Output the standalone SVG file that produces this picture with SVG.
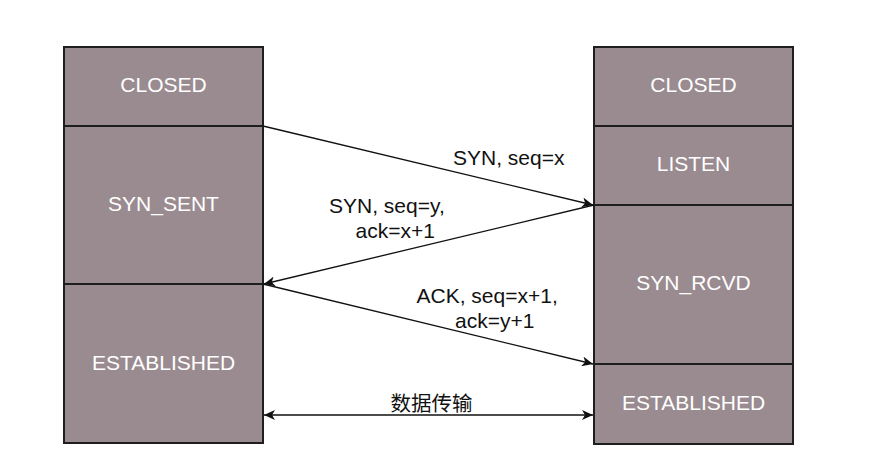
<svg xmlns="http://www.w3.org/2000/svg" width="879" height="473" viewBox="0 0 879 473">
<defs>
<style>
.box{fill:#9a8b90;stroke:#1e1e1e;stroke-width:2}
.div{stroke:#1e1e1e;stroke-width:2}
.st{fill:#ffffff;font-family:"Liberation Sans",Arial,sans-serif;font-size:21px;text-anchor:middle}
.lbl{fill:#111111;font-family:"Liberation Sans",Arial,sans-serif;font-size:21px}
.cn{fill:#111111;font-family:"Noto Sans CJK SC","Liberation Sans",sans-serif;font-size:20.5px;text-anchor:middle}
.ln{stroke:#111111;stroke-width:1.3;fill:none}
</style>
<marker id="ah" markerUnits="userSpaceOnUse" markerWidth="12" markerHeight="10" refX="11" refY="5" orient="auto-start-reverse" viewBox="0 0 12 10">
<path d="M0,0 L11,5 L0,10 L3,5 Z" fill="#111111"/>
</marker>
</defs>
<rect width="879" height="473" fill="#ffffff"/>
<g id="client">
<rect class="box" x="64" y="47" width="199" height="396"/>
<line class="div" x1="64" y1="126" x2="263" y2="126"/>
<line class="div" x1="64" y1="284" x2="263" y2="284"/>
<text class="st" x="163.5" y="92">CLOSED</text>
<text class="st" x="163.5" y="211">SYN_SENT</text>
<text class="st" x="163.5" y="370">ESTABLISHED</text>
</g>
<g id="server">
<rect class="box" x="594" y="47" width="199" height="397"/>
<line class="div" x1="594" y1="126" x2="793" y2="126"/>
<line class="div" x1="594" y1="205" x2="793" y2="205"/>
<line class="div" x1="594" y1="364" x2="793" y2="364"/>
<text class="st" x="693.5" y="92">CLOSED</text>
<text class="st" x="693.5" y="171">LISTEN</text>
<text class="st" x="693.5" y="290">SYN_RCVD</text>
<text class="st" x="693.5" y="410">ESTABLISHED</text>
</g>
<g id="connectors">
<line class="ln" x1="263" y1="126" x2="593" y2="205" marker-end="url(#ah)"/>
<line class="ln" x1="594" y1="205" x2="264" y2="284" marker-end="url(#ah)"/>
<line class="ln" x1="263" y1="284" x2="593" y2="364" marker-end="url(#ah)"/>
<line class="ln" x1="264" y1="415" x2="593" y2="415" marker-start="url(#ah)" marker-end="url(#ah)"/>
<text class="lbl" x="453" y="165">SYN, seq=x</text>
<text class="lbl" x="329" y="213">SYN, seq=y,</text>
<text class="lbl" x="355.5" y="238">ack=x+1</text>
<text class="lbl" x="416.5" y="303">ACK, seq=x+1,</text>
<text class="lbl" x="455" y="328">ack=y+1</text>
<text class="cn" x="431.5" y="411">数据传输</text>
</g>
</svg>
